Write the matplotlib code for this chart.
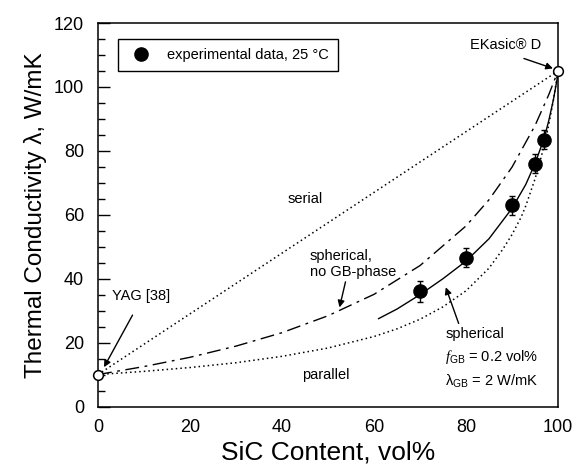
import matplotlib
matplotlib.use("Agg")
import matplotlib.pyplot as plt
from matplotlib.lines import Line2D

plt.rcParams['font.family'] = ['Liberation Sans', 'DejaVu Sans']
plt.rcParams['mathtext.fontset'] = 'custom'
plt.rcParams['mathtext.rm'] = 'Liberation Sans'
plt.rcParams['mathtext.it'] = 'Liberation Serif:italic'

# experimental data
x_exp = [70, 80, 90, 95, 97]
y_exp = [36, 46.5, 63, 76, 83.5]
err_exp = [3.2, 3.0, 3.0, 3.0, 3.0]

# end members: YAG and EKasic D
x_end = [0, 100]
y_end = [10, 105]

# serial bound (upper dotted)
x_serial = [0, 20, 40, 60, 80, 100]
y_serial = [10, 29, 48, 67, 86, 105]

# parallel bound (lower dotted)
x_parallel = [0, 10, 20, 30, 40, 50, 60, 65, 70, 75, 80, 85, 88, 90, 92, 93, 95, 96, 97, 98, 99, 100]
y_parallel = [10, 11.0, 12.2, 13.7, 15.7, 18.3, 21.9, 24.3, 27.3, 31.2, 36.2, 43.3, 49.2, 53.8, 59.3, 62.8, 71.2, 76.2, 81.7, 88.2, 95.9, 105]

# spherical, no GB-phase (dash-dot)
x_sph = [0, 10, 20, 30, 40, 50, 60, 70, 80, 85, 90, 95, 98, 100]
y_sph = [10, 12.5, 15.4, 18.9, 23.1, 28.4, 35.1, 44.1, 56.5, 64.7, 74.9, 87.9, 97.6, 105]

# spherical with GB-phase (solid)
x_gb = [61, 65, 70, 75, 80, 85, 90, 93, 95, 97, 98, 99, 100]
y_gb = [27.5, 30.5, 35, 40, 45.5, 52.5, 62, 69.5, 76, 84, 89.5, 96, 104]

fig = plt.figure(figsize=(5.78, 4.70), dpi=100)
ax = fig.add_axes([0.1696, 0.1351, 0.7958, 0.8159])

ax.plot(x_serial, y_serial, color="black", lw=1.1, linestyle=(0, (1, 2)))
ax.plot(x_parallel, y_parallel, color="black", lw=1.1, linestyle=(0, (1, 2)))
ax.plot(x_sph, y_sph, color="black", lw=1.0, linestyle=(0, (10, 4, 2, 4)))
ax.plot(x_gb, y_gb, color="black", lw=1.0)
ax.errorbar(x_exp, y_exp, yerr=err_exp, fmt="o", color="black", ms=9.5,
            capsize=2.5, elinewidth=1, capthick=1, zorder=4)
ax.plot(x_end, y_end, "o", ms=7, mfc="white", mec="black", mew=1.1,
        clip_on=False, zorder=5)

ax.set_xlim(0, 100)
ax.set_ylim(0, 120)
ax.set_xticks([0, 20, 40, 60, 80, 100])
ax.set_yticks([0, 20, 40, 60, 80, 100, 120])
ax.set_yticks(range(0, 121, 5), minor=True)
ax.tick_params(axis="x", length=0, labelsize=13, pad=9)
ax.tick_params(axis="y", which="major", direction="in", length=8.5, width=1,
               labelsize=13, pad=10)
ax.tick_params(axis="y", which="minor", direction="in", length=5, width=1)
for s in ax.spines.values():
    s.set_linewidth(1.1)

ax.set_xlabel("SiC Content, vol%", fontsize=19, labelpad=3)
ax.set_ylabel("Thermal Conductivity λ, W/mK", fontsize=17.5, labelpad=5)

handle = Line2D([], [], marker="o", color="black", ms=9.5, linestyle="none")
leg = ax.legend([handle], ["experimental data, 25 °C"], loc="upper left",
                bbox_to_anchor=(0.043, 0.958), fontsize=10.5, fancybox=False,
                framealpha=1, edgecolor="black", borderpad=0.6,
                handletextpad=0.8, borderaxespad=0)
leg.get_frame().set_linewidth(1)

ax.text(45, 65, "serial", fontsize=10.5, ha="center", va="center")
ax.text(46, 44.5, "spherical,\nno GB-phase", fontsize=10.5, ha="left",
        va="center", linespacing=1.2)
ax.text(49.5, 10, "parallel", fontsize=10.5, ha="center", va="center")
ax.text(75.5, 15, "spherical\n$f_{\\mathrm{GB}}$ = 0.2 vol%\nλ$_{\\mathrm{GB}}$ = 2 W/mK",
        fontsize=10.5, ha="left", va="center", linespacing=1.55)

arrow = dict(arrowstyle="-|>", color="black", lw=1, mutation_scale=10,
             shrinkA=0, shrinkB=0)
ax.text(3, 34.5, "YAG [38]", fontsize=10.5, ha="left", va="center")
ax.annotate("", xy=(1.3, 12.3), xytext=(7.5, 28.6), arrowprops=arrow)
ax.text(88.7, 113, "EKasic® D", fontsize=10.5, ha="center", va="center")
ax.annotate("", xy=(98.9, 105.8), xytext=(92.6, 108.9), arrowprops=arrow)
ax.annotate("", xy=(52.5, 31), xytext=(53.8, 39), arrowprops=arrow)
ax.annotate("", xy=(75.6, 37.3), xytext=(78.4, 26), arrowprops=arrow)

fig.savefig("out.png", dpi=100)
